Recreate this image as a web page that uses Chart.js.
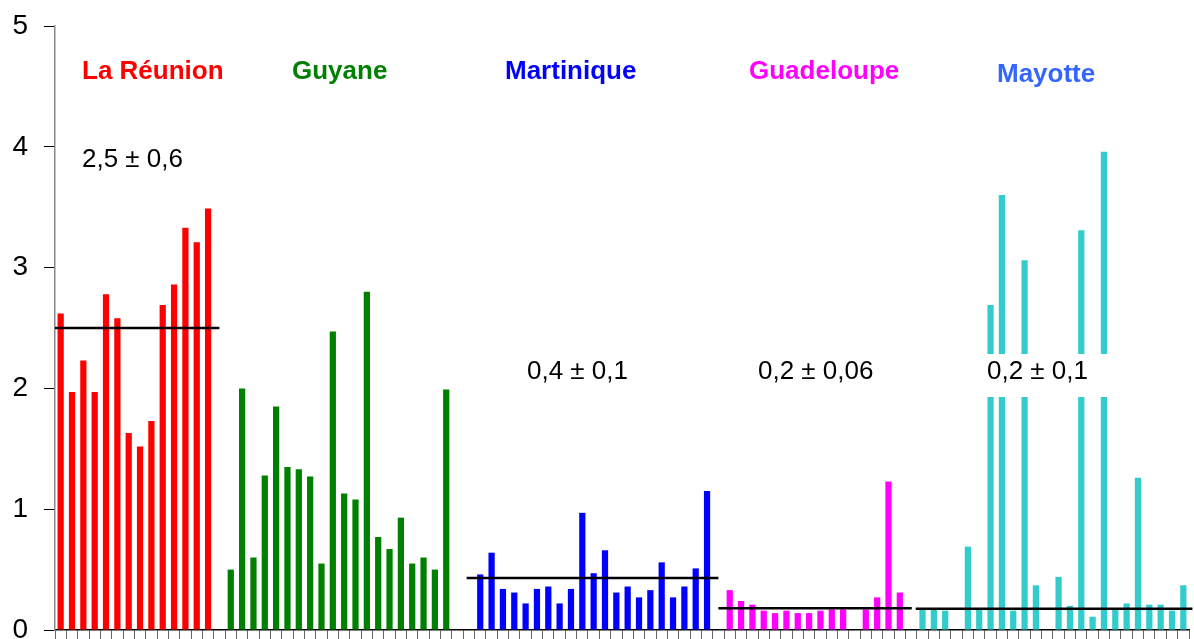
<!DOCTYPE html>
<html>
<head>
<meta charset="utf-8">
<script src="https://cdn.jsdelivr.net/npm/chart.js@4/dist/chart.umd.min.js"></script>
<style>
  html, body { margin: 0; padding: 0; background: #fff; }
  #wrap { width: 1194px; height: 639px; }
</style>
</head>
<body>
<div id="wrap"><canvas id="c" width="1194" height="639"></canvas></div>
<script>
// ---- data ----
const slotCount = 100;
const yTicks = [0, 1, 2, 3, 4, 5];

const reunion    = [2.62, 1.97, 2.23, 1.97, 2.78, 2.58, 1.63, 1.52, 1.73, 2.69, 2.86, 3.33, 3.21, 3.49];
const guyane     = [0.50, 2.00, 0.60, 1.28, 1.85, 1.35, 1.33, 1.27, 0.55, 2.47, 1.13, 1.08, 2.80, 0.77, 0.67, 0.93, 0.55, 0.60, 0.50, 1.99];
const martinique = [0.46, 0.64, 0.34, 0.31, 0.22, 0.34, 0.36, 0.22, 0.34, 0.97, 0.47, 0.66, 0.31, 0.36, 0.27, 0.33, 0.56, 0.27, 0.36, 0.51, 1.15];
const guadeloupe = [0.33, 0.24, 0.21, 0.16, 0.14, 0.16, 0.14, 0.14, 0.16, 0.17, 0.17, null, 0.17, 0.27, 1.23, 0.31];
const mayotte    = [0.17, 0.17, 0.16, null, 0.69, 0.17, 2.69, 3.60, 0.16, 3.06, 0.37, null, 0.44, 0.20, 3.31, 0.11, 3.96, 0.17, 0.22, 1.26, 0.21, 0.21, 0.16, 0.37];

const groupNames  = ['La Réunion', 'Guyane', 'Martinique', 'Guadeloupe', 'Mayotte'];
const groupStarts = [0, 15, 37, 59, 76];

// mean lines: value, start slot, end slot
const meanValues = [2.5, 0.43, 0.18, 0.175];
const meanFrom   = [-0.5, 35.8, 58, 75.4];
const meanTo     = [14, 58, 75.05, 99.8];

const statTexts = ['2,5 ± 0,6', '0,4 ± 0,1', '0,2 ± 0,06', '0,2 ± 0,1'];

// ---- build chart structures ----
const categories = Array.from({ length: slotCount }, (_, i) => String(i + 1));
function place(values, start) {
  const arr = new Array(slotCount).fill(null);
  values.forEach((v, i) => { arr[start + i] = v; });
  return arr;
}
const groupValues = [reunion, guyane, martinique, guadeloupe, mayotte];
const barColors = ['#FF0000', '#008000', '#0000FF', '#FF00FF', '#33CCCC'];

const datasets = [];
meanValues.forEach((v, i) => {
  datasets.push({
    type: 'line',
    xAxisID: 'x2',
    data: [{ x: meanFrom[i], y: v }, { x: meanTo[i], y: v }],
    borderColor: '#000000',
    borderWidth: 2.5,
    pointRadius: 0,
    fill: false,
    order: 0,
    clip: { left: 2, right: 6, top: 0, bottom: 0 }
  });
});
groupValues.forEach((vals, i) => {
  datasets.push({
    type: 'bar',
    label: groupNames[i],
    data: place(vals, groupStarts[i]),
    backgroundColor: barColors[i],
    borderWidth: 0,
    grouped: false,
    categoryPercentage: 1.0,
    barPercentage: 0.55,
    order: 1
  });
});

// text annotations (pixel positions)
const labelLayout = [
  { text: groupNames[0], x: 82,  y: 72, color: '#FF0000', bold: true },
  { text: groupNames[1], x: 292, y: 72, color: '#008000', bold: true },
  { text: groupNames[2], x: 505, y: 72, color: '#0000FF', bold: true },
  { text: groupNames[3], x: 749, y: 72, color: '#FF00FF', bold: true },
  { text: groupNames[4], x: 997, y: 75, color: '#3366FF', bold: true },
  { text: statTexts[0], x: 82,  y: 160, color: '#000000', bold: false },
  { text: statTexts[1], x: 527, y: 372, color: '#000000', bold: false },
  { text: statTexts[2], x: 758, y: 372, color: '#000000', bold: false },
  { text: statTexts[3], x: 987, y: 372, color: '#000000', bold: false, box: [980, 354, 130, 43] }
];

const textPlugin = {
  id: 'textPlugin',
  afterDatasetsDraw(chart) {
    const ctx = chart.ctx;
    ctx.save();
    labelLayout.forEach(l => {
      if (l.box) {
        ctx.fillStyle = '#ffffff';
        ctx.fillRect(l.box[0], l.box[1], l.box[2], l.box[3]);
      }
      ctx.font = (l.bold ? 'bold ' : '') + '26px "Liberation Sans", Arial, sans-serif';
      ctx.fillStyle = l.color;
      ctx.textAlign = 'left';
      ctx.textBaseline = 'middle';
      ctx.fillText(l.text, l.x, l.y);
    });
    ctx.restore();
  }
};

new Chart(document.getElementById('c'), {
  data: { labels: categories, datasets: datasets },
  options: {
    responsive: false,
    animation: false,
    events: [],
    layout: { padding: { top: 26, right: 5, bottom: 0, left: 0 } },
    plugins: { legend: { display: false }, tooltip: { enabled: false }, title: { display: false } },
    scales: {
      x: {
        type: 'category',
        offset: true,
        grid: { display: true, drawOnChartArea: false, drawTicks: true, tickLength: 9, offset: true, color: '#666666', lineWidth: 1 },
        border: { display: true, color: '#000000', width: 1.5 },
        ticks: { display: false, autoSkip: false }
      },
      x2: {
        type: 'linear',
        display: false,
        min: -0.5,
        max: slotCount - 0.5
      },
      y: {
        type: 'linear',
        min: 0,
        max: 5,
        afterBuildTicks(scale) { scale.ticks = yTicks.map(v => ({ value: v })); },
        afterFit(scale) { scale.width = 55; scale.paddingTop = 0; scale.paddingBottom = 0; },
        grid: { display: true, drawOnChartArea: false, drawTicks: true, tickLength: 11, color: '#000000', lineWidth: 1 },
        border: { display: true, color: '#888888', width: 1.5 },
        ticks: {
          padding: 16,
          color: '#000000',
          font: { family: '"Liberation Sans", Arial, sans-serif', size: 28 }
        }
      }
    }
  },
  plugins: [textPlugin]
});
</script>
</body>
</html>
